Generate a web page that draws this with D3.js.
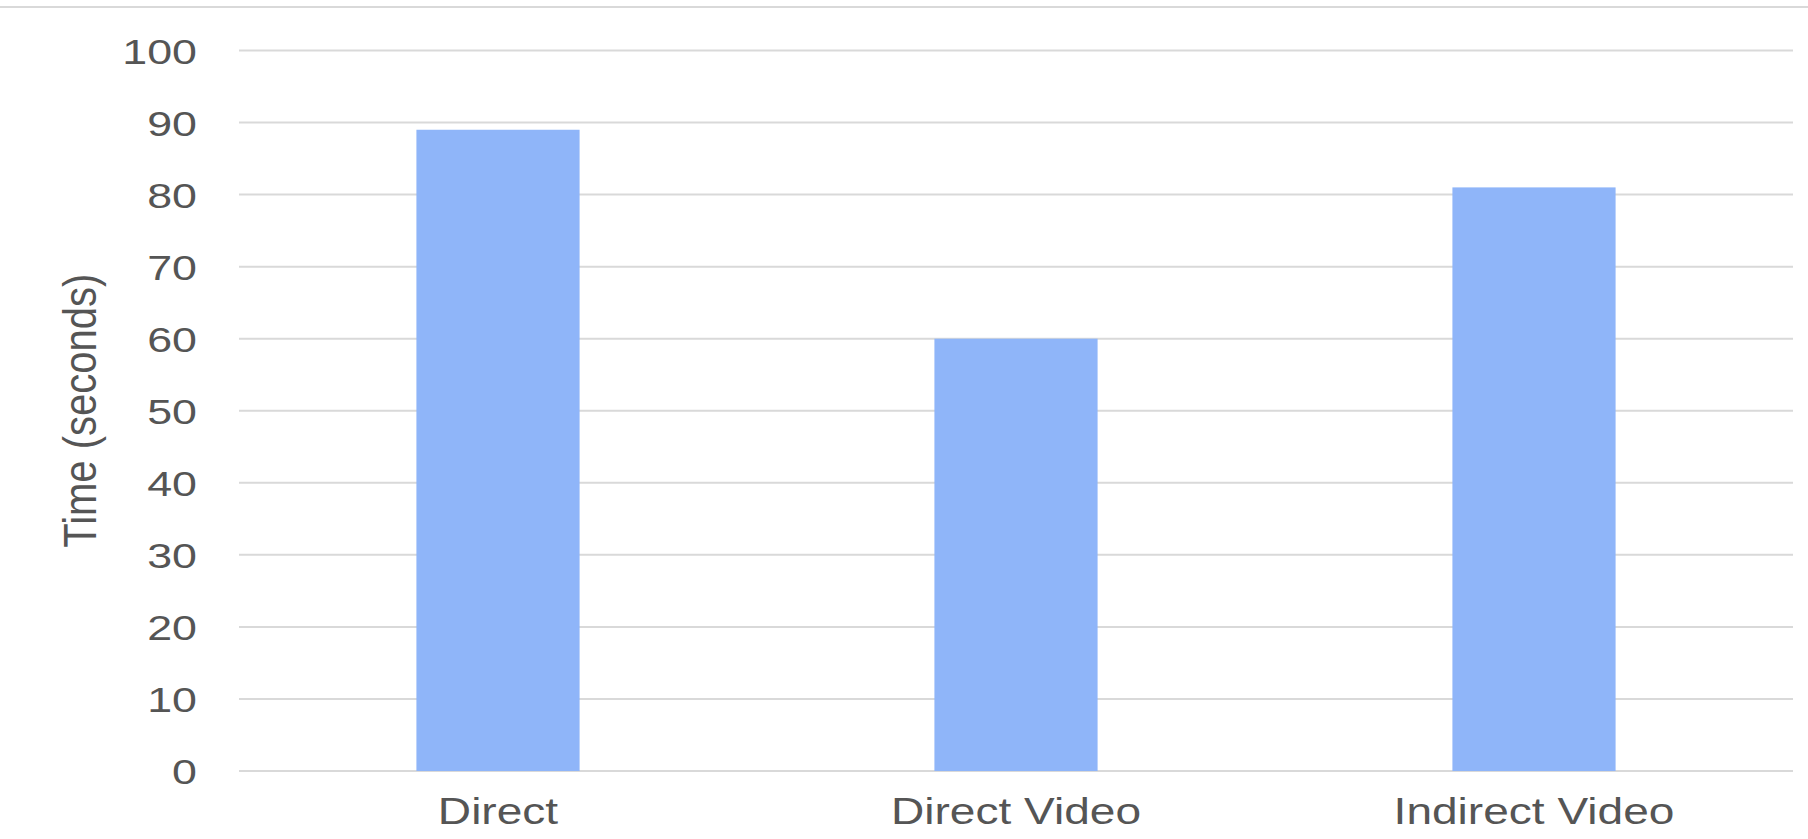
<!DOCTYPE html>
<html>
<head>
<meta charset="utf-8">
<script src="https://cdn.jsdelivr.net/npm/d3@7"></script>
<style>
  html, body { margin: 0; padding: 0; background: #ffffff; }
  svg { display: block; }
  text { font-family: "Liberation Sans", Arial, sans-serif; fill: #555555; }
</style>
</head>
<body>
<svg id="chart" width="1808" height="839"></svg>
<script>
const categories = ["Direct", "Direct Video", "Indirect Video"];
const values = [89, 60, 81];
const yTicks = [0, 10, 20, 30, 40, 50, 60, 70, 80, 90, 100];
const yTitle = "Time (seconds)";

const W = 1808, H = 839;
const plot = { left: 239, right: 1793, top: 50.5, bottom: 771 };
const stretch = 1.28;

const svg = d3.select("#chart");

// top border line
svg.append("line")
  .attr("x1", 0).attr("x2", W).attr("y1", 7).attr("y2", 7)
  .attr("stroke", "#d9d9d9").attr("stroke-width", 2);

const x = d3.scaleBand()
  .domain(categories)
  .range([plot.left, plot.right])
  .paddingInner(0.685)
  .paddingOuter(0.3425);

const y = d3.scaleLinear()
  .domain([0, 100])
  .range([plot.bottom, plot.top]);

// gridlines
svg.append("g")
  .selectAll("line")
  .data(yTicks)
  .join("line")
  .attr("x1", plot.left).attr("x2", plot.right)
  .attr("y1", d => y(d)).attr("y2", d => y(d))
  .attr("stroke", "#d9d9d9").attr("stroke-width", 2);

// bars
svg.append("g")
  .selectAll("rect")
  .data(values)
  .join("rect")
  .attr("x", (d, i) => x(categories[i]))
  .attr("width", x.bandwidth())
  .attr("y", d => y(d))
  .attr("height", d => y(0) - y(d))
  .attr("fill", "#8fb5f9");

// y axis labels
const yAxis = d3.axisLeft(y).tickValues(yTicks).tickSize(0).tickPadding(0);
const gy = svg.append("g").attr("transform", `translate(${plot.left},0)`).call(yAxis);
gy.select(".domain").remove();
gy.selectAll(".tick text")
  .attr("font-family", "Liberation Sans, Arial, sans-serif")
  .attr("font-size", 35)
  .attr("fill", "#555555")
  .attr("x", -42 / stretch)
  .attr("dy", "0.36em")
  .attr("transform", `scale(${stretch},1)`);

// x axis labels
const xAxis = d3.axisBottom(x).tickSize(0).tickPadding(0);
const gx = svg.append("g").attr("transform", `translate(0,${plot.bottom})`).call(xAxis);
gx.select(".domain").remove();
gx.selectAll(".tick text")
  .attr("font-family", "Liberation Sans, Arial, sans-serif")
  .attr("font-size", 36)
  .attr("fill", "#555555")
  .attr("y", 53)
  .attr("dy", 0)
  .attr("transform", `scale(${stretch},1)`);

// y title
svg.append("text")
  .attr("transform", `translate(80,${(plot.top + plot.bottom) / 2}) scale(1.15,1) rotate(-90)`)
  .attr("text-anchor", "middle")
  .attr("dy", "0.35em")
  .attr("font-size", 40)
  .attr("fill", "#555555")
  .text(yTitle);
</script>
</body>
</html>
